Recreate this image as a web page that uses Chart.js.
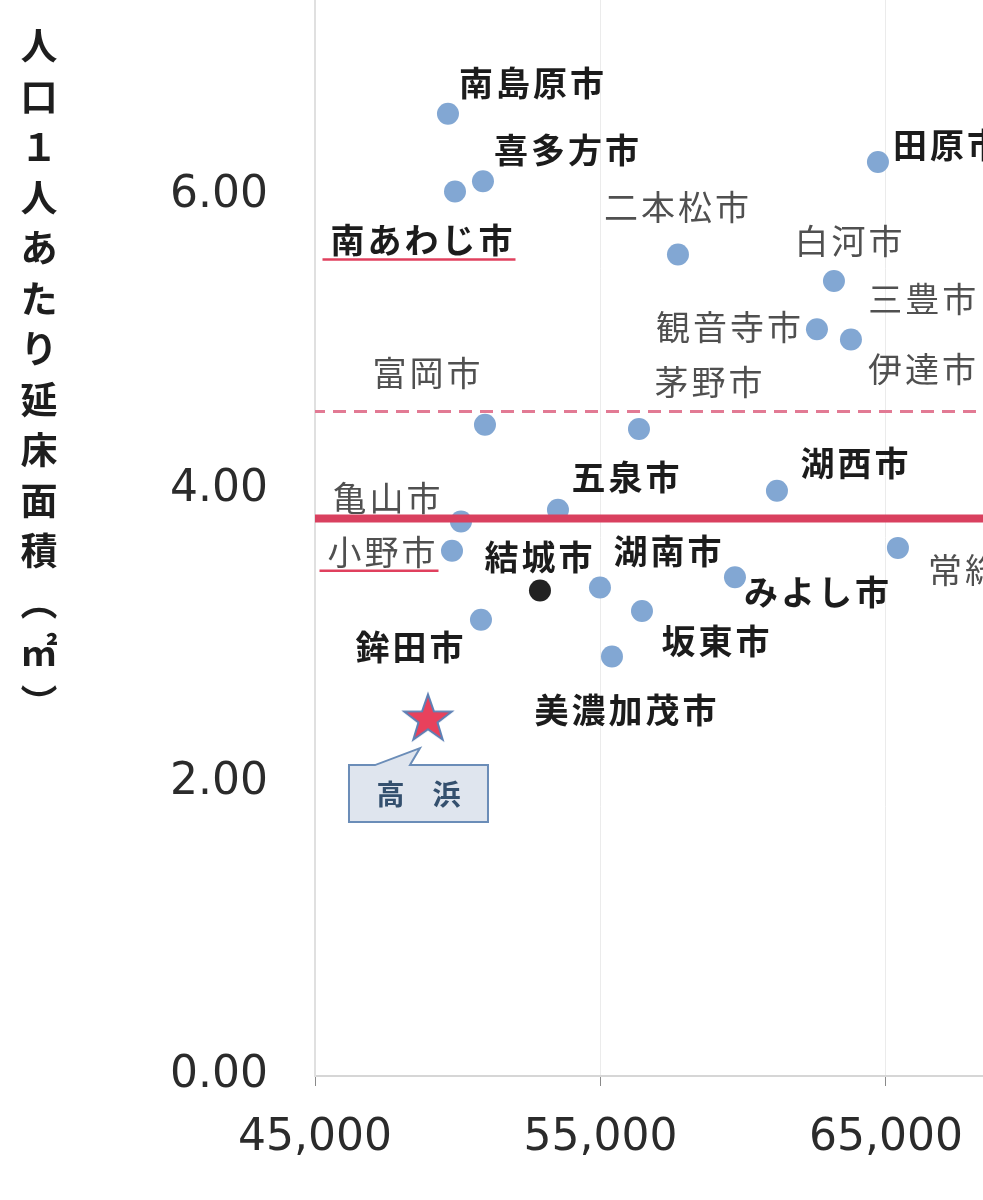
<!DOCTYPE html>
<html lang="ja">
<head>
<meta charset="utf-8">
<title>人口1人あたり延床面積</title>
<script src="https://cdn.jsdelivr.net/npm/chart.js@4.4.1/dist/chart.umd.min.js"></script>
<style>
  html, body { margin: 0; padding: 0; background: #fff; }
  #areaChart { display: block; }
</style>
</head>
<body>
<canvas id="areaChart" width="983" height="1200"></canvas>
<script>
// values
const cities = ["南島原市", "喜多方市", "南あわじ市", "二本松市", "田原市", "白河市", "三豊市",
  "観音寺市", "伊達市", "富岡市", "茅野市", "五泉市", "亀山市", "湖西市", "小野市", "結城市",
  "湖南市", "坂東市", "みよし市", "美濃加茂市", "鉾田市", "常総市"];
const population = [49658, 50884, 49904, 57715, 64720, 63179, 69000,
  62583, 63774, 50954, 56349, 53511, 50114, 61182, 49799, 52881,
  54982, 56454, 59711, 55403, 50814, 65420];
const floorArea = [6.56, 6.10, 6.03, 5.60, 6.23, 5.42, 5.15,
  5.09, 5.02, 4.44, 4.41, 3.86, 3.78, 3.99, 3.58, 3.31,
  3.33, 3.17, 3.40, 2.86, 3.11, 3.60];

const targetName = ["高浜"];
const targetPopulation = [48958];
const targetArea = [2.44];

const averageLine = [3.80];
const upperLine = [4.53];

const xTicks = [45000, 55000, 65000];
const yTicks = [0, 2, 4, 6];
const xRange = [45000, 68400];
const yRange = [0, 7.335];

// label placement next to each dot (px): dx, dy, align
const labelPlace = [
  [85, -31, "center"], [85, -31, "center"], [-32, 49, "center"], [0, -47, "center"],
  [15, -17, "left"], [16, -40, "center"], [-132, -21, "left"], [-87, -2, "center"],
  [17, 29, "left"], [-57, -52, "center"], [71, -47, "center"], [69, -33, "center"],
  [-73, -23, "center"], [79, -28, "center"], [-69, 1, "center"], [0, -33, "center"],
  [69, -36, "center"], [75, 30, "center"], [83, 15, "center"], [15, 54, "center"],
  [-70, 27, "center"], [30, 22, "left"]
];
const boldLabels = ["南島原市", "喜多方市", "南あわじ市", "田原市", "五泉市", "湖西市", "結城市",
  "湖南市", "坂東市", "みよし市", "美濃加茂市", "鉾田市"];
const underlined = ["南あわじ市", "小野市"];
const darkDots = ["結城市"];

const yTitle = ["人", "口", "１", "人", "あ", "た", "り", "延", "床", "面", "積", "︵", "㎡", "︶"];

function makeStar(r) {
  const c = document.createElement("canvas");
  const size = Math.ceil(r * 2 + 6);
  c.width = c.height = size;
  const g = c.getContext("2d");
  g.translate(size / 2, size / 2 + r * 0.05);
  g.beginPath();
  for (let i = 0; i < 10; i++) {
    const rad = i % 2 === 0 ? r : r * 0.4;
    const a = -Math.PI / 2 + i * Math.PI / 5;
    g.lineTo(rad * Math.cos(a), rad * Math.sin(a));
  }
  g.closePath();
  g.fillStyle = "#e8415c";
  g.fill();
  g.lineWidth = 2;
  g.strokeStyle = "#5d80b5";
  g.stroke();
  return c;
}

// chart.js reserves room for edge tick labels; the scan has none
function noPadding(scale) {
  scale.paddingTop = scale.paddingBottom = scale.paddingLeft = scale.paddingRight = 0;
}

const cjk = '"Noto Sans CJK JP", "Noto Sans", sans-serif';

const annotations = {
  id: "annotations",
  afterDraw(chart) {
    const ctx = chart.ctx;
    ctx.save();

    // city names
    const pts = chart.getDatasetMeta(2).data;
    ctx.textBaseline = "middle";
    ctx.letterSpacing = "3px";
    pts.forEach((p, i) => {
      const name = cities[i];
      const [dx, dy, align] = labelPlace[i];
      const bold = boldLabels.includes(name);
      ctx.font = (bold ? "700 " : "400 ") + "34px " + cjk;
      ctx.fillStyle = bold ? "#1c1c1c" : "#505050";
      ctx.textAlign = align;
      const x = p.x + dx, y = p.y + dy;
      ctx.fillText(name, x, y);
      if (underlined.includes(name)) {
        const w = ctx.measureText(name).width;
        const left = align === "left" ? x : x - w / 2;
        ctx.strokeStyle = "#e0405e";
        ctx.lineWidth = 2.5;
        ctx.beginPath();
        ctx.moveTo(left - 8, y + 19);
        ctx.lineTo(left + w, y + 19);
        ctx.stroke();
      }
    });

    // callout for the target city
    const s = chart.getDatasetMeta(3).data[0];
    const bx = s.x - 79, by = s.y + 47, bw = 139, bh = 57;
    ctx.beginPath();
    ctx.moveTo(bx, by);
    ctx.lineTo(s.x - 53, by);
    ctx.lineTo(s.x - 8, s.y + 30);
    ctx.lineTo(s.x - 18, by);
    ctx.lineTo(bx + bw, by);
    ctx.lineTo(bx + bw, by + bh);
    ctx.lineTo(bx, by + bh);
    ctx.closePath();
    ctx.fillStyle = "#dfe5ee";
    ctx.fill();
    ctx.strokeStyle = "#6b8db8";
    ctx.lineWidth = 2;
    ctx.stroke();
    ctx.letterSpacing = "0px";
    ctx.font = "700 28px " + cjk;
    ctx.fillStyle = "#34506e";
    ctx.textAlign = "center";
    ctx.fillText(targetName[0].split("").join("　"), bx + bw / 2, by + bh / 2 + 1);

    // vertical y-axis title
    ctx.font = "700 37px " + cjk;
    ctx.fillStyle = "#1e1e1e";
    yTitle.forEach((ch, i) => ctx.fillText(ch, 39, 46 + i * 50.5));
    ctx.restore();
  }
};

const ctx = document.getElementById("areaChart").getContext("2d");

new Chart(ctx, {
  type: "scatter",
  data: {
    datasets: [
      {
        data: [{ x: xRange[0], y: averageLine[0] }, { x: xRange[1], y: averageLine[0] }],
        showLine: true,
        borderColor: "#d9405f",
        borderWidth: 8,
        pointRadius: 0
      },
      {
        data: [{ x: xRange[0], y: upperLine[0] }, { x: xRange[1], y: upperLine[0] }],
        showLine: true,
        borderColor: "#e27a94",
        borderWidth: 3,
        borderDash: [13, 8],
        borderDashOffset: -18,
        pointRadius: 0
      },
      {
        data: cities.map((c, i) => ({ x: population[i], y: floorArea[i] })),
        backgroundColor: cities.map(c => darkDots.includes(c) ? "#222222" : "#82a7d3"),
        borderWidth: 0,
        pointRadius: 11,
        pointHoverRadius: 11
      },
      {
        data: targetPopulation.map((v, i) => ({ x: v, y: targetArea[i] })),
        pointStyle: makeStar(25),
        pointRadius: 25
      }
    ]
  },
  options: {
    responsive: false,
    animation: false,
    events: [],
    layout: { padding: 0, autoPadding: false },
    plugins: {
      legend: { display: false },
      tooltip: { enabled: false }
    },
    scales: {
      x: {
        type: "linear",
        min: xRange[0],
        max: xRange[1],
        afterBuildTicks: scale => { scale.ticks = xTicks.map(v => ({ value: v })); },
        afterFit: scale => { scale.height = 124; noPadding(scale); },
        grid: { color: "#ebebeb", lineWidth: 1, tickColor: "#8a8a8a", tickLength: 10 },
        border: { color: "#d6d6d6", width: 2 },
        ticks: {
          padding: 26,
          color: "#2b2b2b",
          font: { family: '"DejaVu Sans", Verdana, sans-serif', size: 44 },
          callback: v => v.toLocaleString("en-US")
        }
      },
      y: {
        min: yRange[0],
        max: yRange[1],
        afterBuildTicks: scale => { scale.ticks = yTicks.map(v => ({ value: v })); },
        afterFit: scale => { scale.width = 315; noPadding(scale); },
        grid: { display: false, drawTicks: false },
        border: { color: "#e0e0e0", width: 2 },
        ticks: {
          padding: 47,
          color: "#2b2b2b",
          font: { family: '"DejaVu Sans", Verdana, sans-serif', size: 44 },
          callback: v => v.toFixed(2)
        }
      }
    }
  },
  plugins: [annotations]
});
</script>
</body>
</html>
